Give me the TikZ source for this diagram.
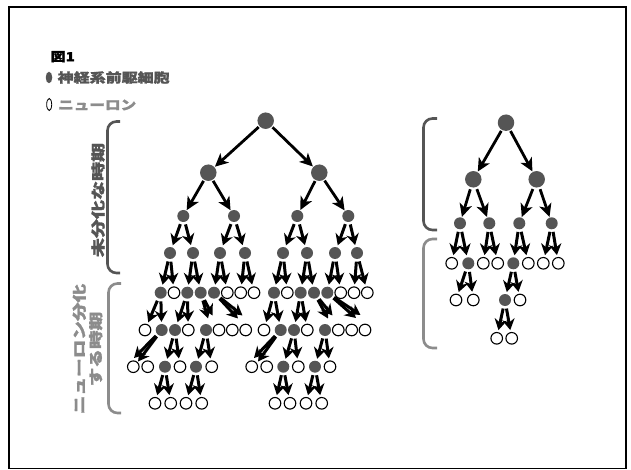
\documentclass[tikz,border=0pt]{standalone}
\usepackage{fontspec}
\newfontfamily\jp{Noto Sans CJK JP}[FakeBold=1.6]
\usetikzlibrary{arrows.meta,shapes.geometric}
\definecolor{dk}{HTML}{555555}
\definecolor{lt}{HTML}{8C8C8C}
\begin{document}
\begin{tikzpicture}[x=1pt,y=-1pt,
  big/.style={circle,fill=dk,inner sep=0pt,minimum size=16.5pt},
  pf/.style={circle,fill=dk,inner sep=0pt,minimum size=12pt},
  po/.style={circle,draw=black,fill=white,line width=1.1pt,inner sep=0pt,minimum size=11.6pt},
  bar/.style={line width=2.8pt,-{Stealth[length=13pt,width=12.5pt,inset=3.5pt]},shorten <=1pt,shorten >=0.5pt},
  sar/.style={line width=3pt,-{Stealth[length=11pt,width=12.5pt,inset=3.5pt]},shorten <=2.5pt,shorten >=2pt},
  dar/.style={line width=3pt,-{Stealth[length=11pt,width=12pt,inset=3.5pt]},shorten <=2pt},
  brk/.style={line width=2.6pt,rounded corners=9pt},
  jtxt/.style={inner sep=0pt,font=\jp\bfseries}
]
\useasboundingbox (0,0) rectangle (631,470);
\draw[line width=1.3pt] (9,7) rectangle (626,468.5);

% legend
\node[jtxt,anchor=west,font=\jp\bfseries\fontsize{12.5}{12.5}\selectfont] (fig) at (50.5,56.7) {\scalebox{1.2}[1]{図1}};
\node[ellipse,fill=dk,inner sep=0pt,minimum width=6.5pt,minimum height=11.5pt] (lgf) at (49,77.5) {};
\node[ellipse,draw=black,fill=white,line width=0.8pt,inner sep=0pt,minimum width=5pt,minimum height=12pt] (lgo) at (49.2,104.5) {};
\node[jtxt,anchor=west,text=dk,font=\jp\bfseries\fontsize{13}{13}\selectfont] (lgt1) at (57.5,77.5) {\scalebox{1.23}[1]{神経系前駆細胞}};
\node[jtxt,anchor=west,text=lt,font=\jp\bfseries\fontsize{13}{13}\selectfont] (lgt2) at (58,105) {\scalebox{1.2}[1]{ニューロン}};

% side labels
\node[jtxt,rotate=90,text=dk,font=\jp\bfseries\fontsize{14}{14}\selectfont] (lab1) at (98,200) {\scalebox{1.36}[1]{未分化な時期}};
\node[jtxt,rotate=90,text=lt,align=center,font=\jp\bfseries\fontsize{14}{16.5}\selectfont] (lab2) at (87.5,349) {\scalebox{1.33}[1]{ニューロン分化}\\\scalebox{1.33}[1]{する時期}};

% brackets
\draw[brk,dk] (120,121.5) -- (107.5,121.5) -- (107.5,273) -- (120,273);
\draw[brk,lt] (121,283.5) -- (108.5,283.5) -- (108.5,413) -- (121,413);
\draw[brk,dk] (437,118.5) -- (423.5,118.5) -- (423.5,230) -- (437,230);
\draw[brk,lt] (437,239) -- (423.5,239) -- (423.5,348) -- (437,348);

% ===== left tree =====
\node[big] (R) at (265.7,120.7) {};
\node[big] (A1) at (208.3,172.7) {};
\node[big] (A2) at (319.3,172.7) {};
\node[pf] (B1) at (183.3,216) {};
\node[pf] (B2) at (234,216) {};
\node[pf] (B3) at (297.3,216) {};
\node[pf] (B4) at (348.3,216) {};
\node[pf] (C1) at (170,253) {};
\node[pf] (C2) at (193,253) {};
\node[pf] (C3) at (220,253) {};
\node[pf] (C4) at (245,253) {};
\node[pf] (C5) at (283,253) {};
\node[pf] (C6) at (307,253) {};
\node[pf] (C7) at (335,253) {};
\node[pf] (C8) at (357,253) {};
% level 4
\node[pf] (D1) at (160.7,292.7) {};
\node[po] (D2) at (174,292.7) {};
\node[pf] (D3) at (187.3,292.7) {};
\node[pf] (D4) at (200.7,292.7) {};
\node[pf] (D5) at (214,292.7) {};
\node[po] (D6) at (227.3,292.7) {};
\node[po] (D7) at (240.7,292.7) {};
\node[po] (D8) at (254,292.7) {};
\node[pf] (D9) at (274,292.7) {};
\node[po] (D10) at (287.3,292.7) {};
\node[pf] (D11) at (300.7,292.7) {};
\node[pf] (D12) at (314,292.7) {};
\node[pf] (D13) at (327.3,292.7) {};
\node[po] (D14) at (340.7,292.7) {};
\node[po] (D15) at (354,292.7) {};
\node[po] (D16) at (367.3,292.7) {};
% level 5
\node[po] (E1) at (145,330) {};
\node[pf] (E2) at (161.7,330) {};
\node[pf] (E3) at (175,330) {};
\node[po] (E4) at (188.3,330) {};
\node[pf] (E5) at (206,330) {};
\node[po] (E6) at (219,330) {};
\node[po] (E7) at (232.3,330) {};
\node[po] (E8) at (245.7,330) {};
\node[po] (E9) at (264,330) {};
\node[pf] (E10) at (280.7,330) {};
\node[pf] (E11) at (294,330) {};
\node[po] (E12) at (307.3,330) {};
\node[pf] (E13) at (325,330) {};
\node[po] (E14) at (338.3,330) {};
\node[po] (E15) at (351.7,330) {};
\node[po] (E16) at (365,330) {};
% level 6
\node[po] (F1) at (133.3,366.7) {};
\node[po] (F2) at (147.7,366.7) {};
\node[pf] (F3) at (165,366.7) {};
\node[po] (F4) at (180,366.7) {};
\node[pf] (F5) at (196,366.7) {};
\node[po] (F6) at (211.7,366.7) {};
\node[po] (F7) at (251.7,366.7) {};
\node[po] (F8) at (266.7,366.7) {};
\node[pf] (F9) at (283.3,366.7) {};
\node[po] (F10) at (298.3,366.7) {};
\node[pf] (F11) at (315,366.7) {};
\node[po] (F12) at (330,366.7) {};
% level 7
\node[po] (G1) at (155,403.3) {};
\node[po] (G2) at (170.7,403.3) {};
\node[po] (G3) at (186,403.3) {};
\node[po] (G4) at (201.7,403.3) {};
\node[po] (G5) at (275,403.3) {};
\node[po] (G6) at (290,403.3) {};
\node[po] (G7) at (306,403.3) {};
\node[po] (G8) at (321.7,403.3) {};

% diagonal arrow ends
\coordinate (k1) at (208,318.5);
\coordinate (k2) at (212.5,315.5);
\coordinate (k3) at (238,318.5);
\coordinate (k4) at (242.5,315.5);
\coordinate (k5) at (328,318.5);
\coordinate (k6) at (332.5,315.5);
\coordinate (k7) at (356,318);
\coordinate (k8) at (360.5,315);
\coordinate (k9) at (138,361.5);
\coordinate (k10) at (134,358);
\coordinate (k11) at (258,361.5);
\coordinate (k12) at (254,358);

\draw[bar] (R) -- (A1);
\draw[bar] (R) -- (A2);
\foreach \p/\c in {A1/B1,A1/B2,A2/B3,A2/B4} \draw[bar] (\p) -- (\c);
\foreach \p/\c in {B1/C1,B1/C2,B2/C3,B2/C4,B3/C5,B3/C6,B4/C7,B4/C8,
  C1/D1,C1/D2,C2/D3,C2/D4,C3/D5,C3/D6,C4/D7,C4/D8,
  C5/D9,C5/D10,C6/D11,C6/D12,C7/D13,C7/D14,C8/D15,C8/D16,
  D1/E1,D1/E2,D3/E3,D3/E4,D9/E9,D9/E10,D11/E11,D11/E12,
  E3/F3,E3/F4,E5/F5,E5/F6,E11/F9,E11/F10,E13/F11,E13/F12,
  F3/G1,F3/G2,F5/G3,F5/G4,F9/G5,F9/G6,F11/G7,F11/G8}
  \draw[sar] (\p) -- (\c);
\foreach \p/\c in {D4/k1,D4/k2,D5/k3,D5/k4,D12/k5,D12/k6,D13/k7,D13/k8,
  E2/k9,E2/k10,E10/k11,E10/k12}
  \draw[dar] (\p) -- (\c);

% ===== right tree =====
\node[big] (S) at (506,122.7) {};
\node[big] (T1) at (473.3,179.3) {};
\node[big] (T2) at (536.7,179.3) {};
\node[pf] (U1) at (460,223.3) {};
\node[pf] (U2) at (489.3,223.3) {};
\node[pf] (U3) at (519.3,223.3) {};
\node[pf] (U4) at (551.7,223.3) {};
\node[po] (V1) at (451.7,263.3) {};
\node[pf] (V2) at (468.3,263.3) {};
\node[po] (V3) at (483.3,263.3) {};
\node[po] (V4) at (497.7,263.3) {};
\node[pf] (V5) at (513.3,263.3) {};
\node[po] (V6) at (528.3,263.3) {};
\node[po] (V7) at (543.3,263.3) {};
\node[po] (V8) at (558.3,263.3) {};
\node[po] (W1) at (456,300) {};
\node[po] (W2) at (473.3,300) {};
\node[pf] (W3) at (505,300) {};
\node[po] (W4) at (520,300) {};
\node[po] (X1) at (496.7,338.3) {};
\node[po] (X2) at (511.7,338.3) {};

\draw[bar] (S) -- (T1);
\draw[bar] (S) -- (T2);
\foreach \p/\c in {T1/U1,T1/U2,T2/U3,T2/U4} \draw[bar,shorten <=2pt] (\p) -- (\c);
\foreach \p/\c in {U1/V1,U1/V2,U2/V3,U2/V4,U3/V5,U3/V6,U4/V7,U4/V8,
  V2/W1,V2/W2,V5/W3,V5/W4,W3/X1,W3/X2}
  \draw[sar] (\p) -- (\c);
\end{tikzpicture}
\end{document}
